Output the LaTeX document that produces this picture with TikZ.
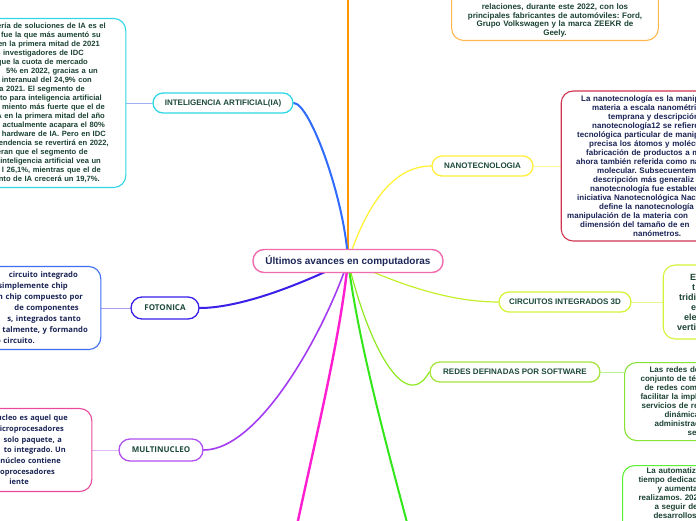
\documentclass[tikz,border=0pt]{standalone}
\usepackage{fontspec}
\setmainfont{Liberation Sans}
\newfontfamily\opensans{Open Sans}
\usetikzlibrary{positioning,backgrounds}
\frenchspacing
\definecolor{hubpink}{HTML}{F06AAE}
\definecolor{hubtext}{HTML}{1C2757}
\definecolor{topictext}{HTML}{1D4A3A}
\definecolor{notenavy}{HTML}{1A2456}
\definecolor{notegreen}{HTML}{1B4332}
\definecolor{iacyan}{HTML}{2ED8E6}
\definecolor{iablue}{HTML}{2F6BFF}
\definecolor{iatie}{HTML}{9FB3F2}
\definecolor{corange}{HTML}{FF9800}
\definecolor{orangenote}{HTML}{FFB74D}
\definecolor{fotoviolet}{HTML}{3A20E8}
\definecolor{fotoblue}{HTML}{3D6FF2}
\definecolor{fototie}{HTML}{A79DF5}
\definecolor{multipurple}{HTML}{B050F0}
\definecolor{multiedge}{HTML}{A33CF2}
\definecolor{multinote}{HTML}{E84A9E}
\definecolor{multitie}{HTML}{E2B6F8}
\definecolor{cmagenta}{HTML}{FF1FD0}
\definecolor{cgreen}{HTML}{33E61A}
\definecolor{nanoyellow}{HTML}{FFEF3A}
\definecolor{nanoedge}{HTML}{FFF22E}
\definecolor{nanonote}{HTML}{D2334F}
\definecolor{nanotie}{HTML}{FFF59A}
\definecolor{circlime}{HTML}{D2F43A}
\definecolor{circedge}{HTML}{C4F02A}
\definecolor{circtie}{HTML}{E6F78E}
\definecolor{redgreen}{HTML}{A6E63C}
\definecolor{rededge}{HTML}{8EEA1E}
\definecolor{rednote}{HTML}{86E336}
\definecolor{redtie}{HTML}{BDF08F}
\definecolor{autogreen}{HTML}{5CF032}
\tikzset{
  hub/.style={draw=hubpink, line width=1.4pt, rounded corners=11pt, fill=white, text=hubtext, font=\bfseries\fontsize{10}{12}\selectfont, minimum width=190pt, minimum height=23pt},
  topic/.style={draw, line width=1.3pt, rounded corners=10pt, fill=white, text=topictext, font=\bfseries\fontsize{8}{10}\selectfont, minimum height=20pt},
  sanstopic/.style={topic, font=\opensans\bfseries\fontsize{8}{10}\selectfont, minimum height=22pt, rounded corners=11pt},
  note/.style={draw, line width=1.1pt, rounded corners=12pt, fill=white, text=notenavy, font=\bfseries\fontsize{8}{9}\selectfont, text width=200pt},
  branch/.style={line width=2pt, line cap=round},
  twig/.style={line width=1.2pt, line cap=round},
  tie/.style={line width=1pt},
}
\newcommand\cutr[2]{#2\kern#1pt}
\newcommand\cutl[2]{\hspace*{#1pt}#2}

\begin{document}
\begin{tikzpicture}[x=1pt, y=-1pt]
  \useasboundingbox (0,0) rectangle (696,520);
  \node[hub] (hub) at (348,261) {Últimos avances en computadoras};
  \node[topic, draw=iacyan, minimum width=140pt] (ia) at (223,103) {INTELIGENCIA ARTIFICIAL(IA)};
  \node[sanstopic, draw=fotoviolet, minimum width=68pt] (foto) at (165,308) {FOTONICA};
  \node[sanstopic, draw=multipurple, minimum width=84pt] (multi) at (161,450) {MULTINUCLEO};
  \node[topic, draw=nanoyellow, minimum width=101pt] (nano) at (482.5,166) {NANOTECNOLOGIA};
  \node[topic, draw=circlime, minimum width=132pt] (circ) at (565,302) {CIRCUITOS INTEGRADOS 3D};
  \node[topic, draw=redgreen, minimum width=170pt] (redes) at (515,372) {REDES DEFINADAS POR SOFTWARE};

  \node[note, draw=iacyan, text=notegreen, font=\bfseries\fontsize{7.6}{9}\selectfont, align=right, inner xsep=17pt, minimum height=169pt, left=26pt of ia] (ianote) {%
    \cutr{3}{ería de soluciones de IA es el}\\
    \cutr{8}{fue la que más aumentó su}\\
    \cutr{9}{en la primera mitad de 2021}\\
    \cutr{25}{s investigadores de IDC}\\
    \cutr{21}{que la cuota de mercado}\\
    \cutr{11}{5\% en 2022, gracias a un}\\
    \cutr{17}{interanual del 24,9\% con}\\
    \cutr{24}{a 2021. El segmento de}\\
    \cutr{7}{to para inteligencia artificial}\\
    \cutr{4}{miento más fuerte que el de}\\
    \cutr{4}{A en la primera mitad del año}\\
    \cutr{4}{actualmente acapara el 80\%}\\
    \cutr{3}{hardware de IA. Pero en IDC}\\
    \cutr{0}{endencia se revertirá en 2022,}\\
    \cutr{21}{eran que el segmento de}\\
    \cutr{8}{inteligencia artificial vea un}\\
    \cutr{8}{l 26,1\%, mientras que el de}\\
    \cutr{9}{nto de IA crecerá un 19,7\%.}};
  \node[note, draw=fotoblue, font=\opensans\bfseries\fontsize{7.7}{11}\selectfont, align=right, inner xsep=13pt, minimum height=83pt, left=29pt of foto] (fotonote) {%
    \cutr{10}{circuito integrado}\\
    \cutr{20}{simplemente chip}\\
    \cutr{5}{n chip compuesto por}\\
    \cutr{9}{de componentes}\\
    \cutr{7}{s, integrados tanto}\\
    \cutr{0}{talmente, y formando}\\
    \cutr{53}{o circuito.}};
  \node[note, draw=multinote, font=\opensans\bfseries\fontsize{7.5}{10.7}\selectfont, align=right, inner xsep=24pt, minimum height=83pt, left=26pt of multi] (multinote) {%
    \cutr{0}{ucleo es aquel que}\\
    \cutr{4}{icroprocesadores}\\
    \cutr{6}{solo paquete, a}\\
    \cutr{2}{to integrado. Un}\\
    \cutr{7}{núcleo contiene}\\
    \cutr{13}{oprocesadores}\\
    \cutr{39}{iente}};
  \node[note, draw=nanonote, align=left, inner xsep=6pt, minimum height=150pt, right=27pt of nano] (nanonote) {%
    \cutl{14}{La nanotecnología es la manip}\\
    \cutl{25}{materia a escala nanométric}\\
    \cutl{41}{temprana y descripción}\\
    \cutl{25}{nanotecnología12 se refiere}\\
    \cutl{10}{tecnológica particular de manip}\\
    \cutl{22}{precisa los átomos y molécu}\\
    \cutl{19}{fabricación de productos a m}\\
    \cutl{9}{ahora también referida como na}\\
    \cutl{30}{molecular. Subsecuenteme}\\
    \cutl{26}{descripción más generaliz}\\
    \cutl{23}{nanotecnología fue establec}\\
    \cutl{10}{iniciativa Nanotecnológica Nac}\\
    \cutl{32}{define la nanotecnología}\\
    \cutl{0}{manipulación de la materia con}\\
    \cutl{13}{dimensión del tamaño de en}\\
    \cutl{66}{nanómetros.}};
  \node[note, draw=circlime, text=notegreen, font=\bfseries\fontsize{9}{10}\selectfont, align=left, inner xsep=14pt, minimum height=74pt, right=31pt of circ] (circnote) {%
    \cutl{13}{E}\\
    \cutl{15}{t}\\
    \cutl{2}{tridi}\\
    \cutl{14}{e}\\
    \cutl{7}{ele}\\
    \cutl{0}{verti}};
  \node[note, draw=rednote, text=notegreen, align=left, inner xsep=16pt, minimum height=78pt, anchor=north west] (rednote) at (624,362) {%
    \cutl{9}{Las redes de}\\
    \cutl{0}{conjunto de té}\\
    \cutl{4}{de redes comp}\\
    \cutl{0}{facilitar la impl}\\
    \cutl{1}{servicios de re}\\
    \cutl{24}{dinámica}\\
    \cutl{14}{administrac}\\
    \cutl{47}{ser}};
  \node[note, draw=autogreen, text=notegreen, align=left, inner xsep=16pt, inner ysep=2pt, anchor=north west] (autonote) at (622,465) {%
    \cutl{8}{La automatiza}\\
    \cutl{0}{tiempo dedicad}\\
    \cutl{19}{y aumenta}\\
    \cutl{0}{realizamos. 202}\\
    \cutl{16}{a seguir de}\\
    \cutl{15}{desarrollos}\rule[-30pt]{0pt}{0pt}};
  \node[note, draw=orangenote, text=notegreen, font=\bfseries\fontsize{8}{8.8}\selectfont, align=center, inner ysep=3pt, anchor=south] (orangenote) at (555,41) {%
    \rule{0pt}{30pt}relaciones, durante este 2022, con los\\
    principales fabricantes de automóviles: Ford,\\
    Grupo Volkswagen y la marca ZEEKR de\\
    Geely.};

  \coordinate (up) at (348,-10);
  \coordinate (downl) at (296,530);
  \coordinate (downr) at (409,530);

  \begin{scope}[on background layer]
    \fill[white] (0,0) rectangle (696,520);
    \draw[branch, corange, line width=2.4pt] (hub.center) -- (up);
    \draw[branch, iablue] (hub.center) .. controls (345,200) and (310,103) .. (ia.east);
    \draw[branch, fotoviolet] (hub.center) .. controls (300,285) and (240,308) .. (foto.east);
    \draw[branch, multiedge, line width=1.6pt] (hub.center) .. controls (325,330) and (260,450) .. (multi.east);
    \draw[branch, cmagenta, line width=2.4pt] (hub.center) .. controls (340,340) and (315,440) .. (downl);
    \draw[branch, cgreen] (hub.center) .. controls (358,340) and (385,440) .. (downr);
    \draw[twig, nanoedge] (hub.center) .. controls (370,195) and (398,166) .. (nano.west);
    \draw[twig, circedge] (hub.center) .. controls (400,285) and (450,302) .. (circ.west);
    \draw[twig, rededge] (hub.center) .. controls (368,345) and (405,415) .. (redes.west);
    \draw[tie, iatie] (ianote) -- (ia);
    \draw[tie, fototie] (fotonote) -- (foto);
    \draw[tie, multitie] (multinote) -- (multi);
    \draw[tie, nanotie] (nano) -- (nanonote);
    \draw[tie, circtie] (circ) -- (circnote);
    \draw[tie, redtie] (redes.east) -- (redes.east -| rednote.west);
  \end{scope}
\end{tikzpicture}
\end{document}
